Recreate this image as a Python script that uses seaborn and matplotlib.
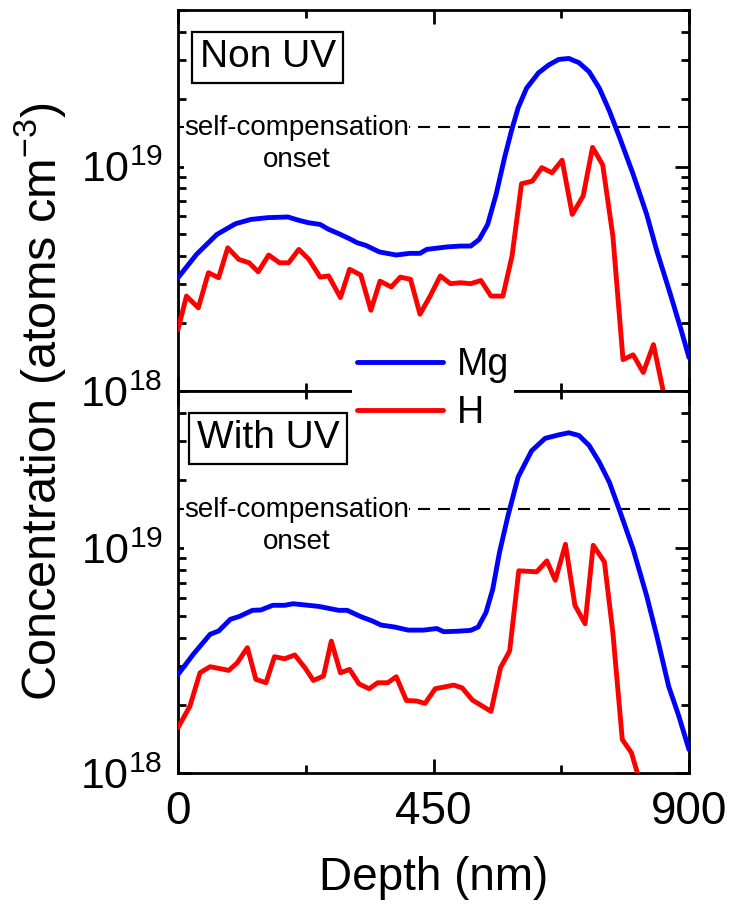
import numpy as np
import pandas as pd
import matplotlib
matplotlib.use("Agg")
import matplotlib.pyplot as plt
import seaborn as sns
from matplotlib import font_manager
from matplotlib.ticker import FixedLocator, LogLocator, NullFormatter
from matplotlib.lines import Line2D

# ---------------- data ----------------
# Non UV panel
mg_nonuv_depth = [0, 32.8, 68.5, 101.3, 128.1, 157.9, 193.7, 211.6, 229.5, 250.3, 265.2, 283.1,
                  301, 315.9, 330.8, 354.6, 384.4, 408.3, 426.2, 438.1, 473.8, 497.7, 515.6,
                  530.5, 545.4, 560.3, 575.2, 587.1, 599, 613.9, 634.8, 652.6, 670.5, 688.4,
                  706.3, 724.2, 742.1, 759.9, 777.8, 801.7, 825.5, 843.4, 867.2, 885.1, 900]
mg_nonuv = [3.20e18, 4.07e18, 4.99e18, 5.57e18, 5.82e18, 5.93e18, 5.97e18, 5.78e18, 5.63e18,
            5.53e18, 5.26e18, 5.03e18, 4.79e18, 4.58e18, 4.46e18, 4.17e18, 4.04e18, 4.11e18,
            4.11e18, 4.28e18, 4.39e18, 4.43e18, 4.43e18, 4.74e18, 5.53e18, 7.53e18, 1.10e19,
            1.44e19, 1.83e19, 2.24e19, 2.62e19, 2.84e19, 3.01e19, 3.04e19, 2.91e19, 2.65e19,
            2.24e19, 1.77e19, 1.35e19, 9.25e18, 6.13e18, 4.21e18, 2.70e18, 1.91e18, 1.41e18]

h_nonuv_depth = [0, 14.9, 35.8, 53.6, 71.5, 87.6, 107.3, 125.2, 141.3, 159.7, 178.8, 194.9,
                 212.8, 230.7, 250.3, 265.2, 286.1, 302.2, 321.9, 339.7, 355.8, 375.5, 391.6,
                 409.5, 426.2, 444.1, 462, 479.8, 497.7, 515.6, 533.5, 551.3, 572.2, 588.3,
                 605, 624.1, 640.8, 658.7, 676.5, 694.4, 713.5, 730.1, 748, 765.9, 783.8,
                 801.6, 819.5, 837.4, 855.3, 873]
h_nonuv = [1.88e18, 2.65e18, 2.35e18, 3.37e18, 3.20e18, 4.35e18, 3.86e18, 3.73e18, 3.40e18,
           4.04e18, 3.73e18, 3.73e18, 4.28e18, 3.86e18, 3.22e18, 3.26e18, 2.61e18, 3.49e18,
           3.29e18, 2.29e18, 3.09e18, 2.91e18, 3.22e18, 3.15e18, 2.20e18, 2.65e18, 3.26e18,
           3.01e18, 3.04e18, 3.01e18, 3.11e18, 2.65e18, 2.65e18, 4.00e18, 8.40e18, 8.63e18,
           9.91e18, 9.40e18, 1.07e19, 6.13e18, 7.40e18, 1.22e19, 1.02e19, 4.91e18, 1.38e18,
           1.45e18, 1.21e18, 1.61e18, 0.98e18, 6.0e17]

# With UV panel
mg_uv_depth = [0, 26.8, 56.6, 71.5, 92.4, 107.3, 131.1, 146, 166.9, 187.7, 202.6, 223.5, 247.4,
               265.2, 283.1, 298, 321.9, 342.7, 357.6, 381.4, 405.3, 432.1, 455.9, 467.9, 491.7,
               515.6, 528.7, 542.4, 554.3, 566.2, 581.1, 599, 622.8, 646.7, 670.5, 688.4, 706.3,
               724.2, 742.1, 759.9, 777.8, 801.6, 825.5, 843.3, 864.2, 882.1, 900]
mg_uv = [2.74e18, 3.37e18, 4.14e18, 4.28e18, 4.83e18, 4.96e18, 5.29e18, 5.31e18, 5.57e18,
         5.57e18, 5.66e18, 5.59e18, 5.51e18, 5.40e18, 5.29e18, 5.29e18, 4.96e18, 4.74e18,
         4.55e18, 4.46e18, 4.32e18, 4.32e18, 4.39e18, 4.25e18, 4.27e18, 4.31e18, 4.46e18,
         5.17e18, 6.56e18, 9.57e18, 1.39e19, 2.07e19, 2.71e19, 3.08e19, 3.19e19, 3.26e19,
         3.17e19, 2.86e19, 2.41e19, 1.96e19, 1.47e19, 9.90e18, 6.13e18, 4.07e18, 2.43e18,
         1.79e18, 1.27e18]

h_uv_depth = [0, 20.9, 38.7, 56.6, 89.4, 104.3, 122.2, 137.1, 155, 169.9, 187.7, 205.6, 223.5,
              238.4, 256.3, 270, 286.1, 302.2, 318.9, 336.7, 351.6, 369.5, 384.4, 402.3, 420.2,
              435.1, 453, 485.7, 500.6, 518.5, 551.3, 568, 584.1, 600.2, 631.8, 649.6, 664.5,
              682.4, 699.1, 717, 731.3, 751, 765.9, 782.5, 798.6, 810.6, 830]
h_uv = [1.59e18, 1.98e18, 2.79e18, 2.97e18, 2.86e18, 3.09e18, 3.61e18, 2.61e18, 2.52e18,
        3.29e18, 3.22e18, 3.35e18, 2.94e18, 2.58e18, 2.70e18, 3.86e18, 2.79e18, 2.89e18,
        2.49e18, 2.37e18, 2.52e18, 2.52e18, 2.68e18, 2.10e18, 2.09e18, 2.04e18, 2.37e18,
        2.46e18, 2.39e18, 2.11e18, 1.88e18, 2.94e18, 3.49e18, 7.93e18, 7.85e18, 8.78e18,
        7.20e18, 1.04e19, 5.57e18, 4.61e18, 1.03e19, 8.69e18, 4.21e18, 1.41e18, 1.23e18,
        0.97e18, 6.0e17]

onset_level = 1.5e19
panel_labels = ["Non UV", "With UV"]
series_names = ["Mg", "H"]
x_major = [0, 450, 900]
x_minor = [225, 675]

# ---------------- style ----------------
sns.set_theme(style="ticks")
plt.rcParams["font.family"] = ["Liberation Sans", "DejaVu Sans"]
plt.rcParams["mathtext.fontset"] = "custom"
plt.rcParams["mathtext.rm"] = "Liberation Sans"
plt.rcParams["axes.linewidth"] = 2.0
for k in ["text.color", "axes.labelcolor", "xtick.color", "ytick.color", "axes.edgecolor"]:
    plt.rcParams[k] = "black"

# condensed font for the y label if available
try:
    font_manager.findfont(font_manager.FontProperties(family="Liberation Sans Narrow"),
                          fallback_to_default=False)
    ylab_family, ylab_size = ["Liberation Sans Narrow", "DejaVu Sans"], 41
except Exception:
    ylab_family, ylab_size = ["Liberation Sans", "DejaVu Sans"], 35

W, H = 732, 907
fig = plt.figure(figsize=(W / 100, H / 100), dpi=100)
left, right = 178, 689
ax1 = fig.add_axes([left / W, 1 - 391 / H, (right - left) / W, 381 / H])
ax2 = fig.add_axes([left / W, 1 - 773 / H, (right - left) / W, 382 / H], sharex=ax1)

blue, red = "#0000FF", "#FF0000"
panels = [
    (ax1, mg_nonuv_depth, mg_nonuv, h_nonuv_depth, h_nonuv, panel_labels[0]),
    (ax2, mg_uv_depth, mg_uv, h_uv_depth, h_uv, panel_labels[1]),
]

for ax, xd_mg, y_mg, xd_h, y_h, lab in panels:
    df_mg = pd.DataFrame({"depth": xd_mg, "conc": y_mg})
    df_h = pd.DataFrame({"depth": xd_h, "conc": y_h})
    sns.lineplot(data=df_mg, x="depth", y="conc", ax=ax, color=blue, lw=3.5,
                 estimator=None, sort=False, zorder=3)
    sns.lineplot(data=df_h, x="depth", y="conc", ax=ax, color=red, lw=3.5,
                 estimator=None, sort=False, zorder=3)
    ax.set_yscale("log")
    ax.set_ylim(1e18, 5e19)
    ax.set_xlim(0, 900)
    ax.axhline(onset_level, color="black", lw=1.5, ls=(0, (5.8, 3.8)), zorder=2)
    ax.text(209, 1.26e19, "self-compensation\nonset", ha="center", va="center",
            fontsize=20, linespacing=1.3, zorder=4,
            bbox=dict(boxstyle="square,pad=0.0", fc="white", ec="none"))
    ax.text(0.176, 0.876, lab, transform=ax.transAxes, ha="center", va="center",
            fontsize=28, zorder=5,
            bbox=dict(boxstyle="square,pad=0.19", fc="white", ec="black", lw=1.6))
    ax.xaxis.set_major_locator(FixedLocator(x_major))
    ax.xaxis.set_minor_locator(FixedLocator(x_minor))
    ax.yaxis.set_major_locator(LogLocator(base=10))
    ax.yaxis.set_minor_locator(LogLocator(base=10, subs=np.arange(2, 10)))
    ax.yaxis.set_minor_formatter(NullFormatter())
    ax.tick_params(which="both", direction="in", top=True, right=True, width=2,
                   colors="black")
    ax.tick_params(axis="x", labelsize=33, pad=12)
    ax.tick_params(axis="y", labelsize=31, pad=11)
    ax.tick_params(which="major", length=10)
    ax.tick_params(which="minor", length=6)
    ax.set_xlabel("")
    ax.set_ylabel("")
    for s in ax.spines.values():
        s.set_linewidth(2.0)
        s.set_color("black")

ax1.tick_params(labelbottom=False)
ax2.set_xticks(x_major)
ax2.set_xticklabels([str(v) for v in x_major])
ax2.set_xlabel("Depth (nm)", fontsize=33, labelpad=16, color="black")

fig.text(40 / W, 1 - 402 / H, "Concentration (atoms cm$\\mathdefault{^{-3}}$)",
         rotation=90, ha="center", va="center", fontsize=ylab_size,
         family=ylab_family, color="black")

handles = [Line2D([], [], color=blue, lw=3.5), Line2D([], [], color=red, lw=3.5)]
leg = fig.legend(handles, series_names, loc="center",
                 bbox_to_anchor=(433 / W, 1 - 389 / H), fontsize=27,
                 frameon=True, fancybox=False, framealpha=1, edgecolor="none",
                 facecolor="white", handlelength=2.3, handletextpad=0.35,
                 labelspacing=0.32, borderpad=0.15, borderaxespad=0)
for t in leg.get_texts():
    t.set_color("black")

fig.savefig("out.png", dpi=100)
